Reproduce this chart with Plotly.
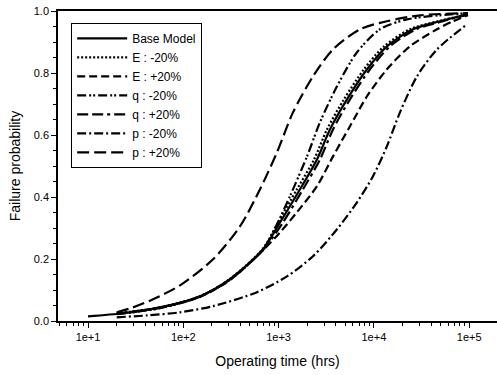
import plotly.graph_objects as go

# ---- data (time in hrs, failure probability) ----
base_t = [10, 23.3, 57, 150, 309, 686, 1035, 1679, 2529, 3460, 5224, 8474, 13710, 25700, 49400, 97000]
base_p = [0.015, 0.025, 0.044, 0.080, 0.135, 0.231, 0.318, 0.425, 0.521, 0.618, 0.715, 0.812, 0.886, 0.941, 0.967, 0.989]

em20_t = [20, 57, 150, 309, 686, 986, 1560, 2355, 3222, 4850, 7870, 12760, 23930, 47100, 97000]
em20_p = [0.025, 0.044, 0.080, 0.136, 0.234, 0.318, 0.425, 0.521, 0.618, 0.715, 0.812, 0.886, 0.941, 0.967, 0.989]

ep20_t = [20, 57, 150, 309, 686, 1035, 1560, 2529, 3724, 5610, 8474, 13710, 23930, 45920, 67600, 97000]
ep20_p = [0.023, 0.043, 0.078, 0.132, 0.228, 0.286, 0.351, 0.435, 0.531, 0.628, 0.725, 0.812, 0.886, 0.941, 0.967, 0.986]

qm20_t = [20, 57, 150, 309, 686, 874, 1318, 1987, 2718, 4100, 6650, 11590, 22230, 97000]
qm20_p = [0.022, 0.041, 0.078, 0.133, 0.231, 0.286, 0.403, 0.531, 0.641, 0.757, 0.867, 0.941, 0.973, 0.993]

qp20_t = [20, 57, 150, 309, 686, 1112, 1803, 2718, 3724, 5610, 9100, 14760, 27670, 53090, 97000]
qp20_p = [0.024, 0.043, 0.079, 0.134, 0.229, 0.318, 0.425, 0.521, 0.618, 0.715, 0.812, 0.886, 0.941, 0.967, 0.989]

pm20_t = [20, 41.6, 92.3, 205, 593, 1224, 2296, 4103, 6650, 9790, 13710, 18780, 28320, 45920, 94840]
pm20_p = [0.012, 0.018, 0.028, 0.048, 0.093, 0.144, 0.209, 0.296, 0.383, 0.467, 0.564, 0.673, 0.789, 0.876, 0.957]

pp20_t = [20, 29.7, 48.1, 92.3, 205, 393, 638, 962, 1416, 2296, 3724, 7150, 13710, 30480, 97000]
pp20_p = [0.028, 0.044, 0.070, 0.115, 0.199, 0.305, 0.425, 0.544, 0.673, 0.789, 0.876, 0.941, 0.967, 0.986, 0.993]

x_tick_vals = [10, 100, 1000, 10000, 100000]
x_tick_text = ["1e+1", "1e+2", "1e+3", "1e+4", "1e+5"]
y_tick_vals = [0.0, 0.2, 0.4, 0.6, 0.8, 1.0]
y_tick_text = ["0.0", "0.2", "0.4", "0.6", "0.8", "1.0"]

series = [
    ("Base Model", base_t, base_p, "solid"),
    ("E : -20%", em20_t, em20_p, "2px,2px"),
    ("E : +20%", ep20_t, ep20_p, "8px,4px"),
    ("q : -20%", qm20_t, qm20_p, "9px,3px,2px,2px,2px,3px"),
    ("q : +20%", qp20_t, qp20_p, "11px,4px,11px,4px,3px,4px"),
    ("p : -20%", pm20_t, pm20_p, "9px,3px,2px,3px"),
    ("p : +20%", pp20_t, pp20_p, "12px,5px"),
]

fig = go.Figure()
for name, t, p, dash in series:
    fig.add_trace(go.Scatter(
        x=t, y=p, mode="lines", name=name,
        line=dict(color="black", width=2.2, dash=dash, shape="spline", smoothing=0.8),
    ))

fig.update_layout(
    width=497, height=375,
    margin=dict(l=58, r=0, t=11, b=54),
    paper_bgcolor="white", plot_bgcolor="white",
    font=dict(family="Liberation Sans, Arial, sans-serif", color="black", size=11),
    showlegend=True,
    legend=dict(
        x=0.03, y=0.962, xanchor="left", yanchor="top",
        bgcolor="white", bordercolor="black", borderwidth=1,
        font=dict(size=12), tracegroupgap=0,
        itemwidth=50, entrywidth=160, entrywidthmode="pixels",
    ),
)
fig.update_xaxes(
    type="log", range=[0.685, 5.292],
    tickvals=x_tick_vals, ticktext=x_tick_text,
    ticks="outside", ticklen=5, tickwidth=1, tickcolor="black",
    minor=dict(ticks="outside", ticklen=3, tickcolor="black", dtick="D1", showgrid=False),
    showline=True, linecolor="black", linewidth=1.5, mirror=True,
    showgrid=False, zeroline=False,
    title=dict(text="Operating time (hrs)", font=dict(size=14), standoff=14),
)
fig.update_yaxes(
    range=[0, 1],
    tickvals=y_tick_vals, ticktext=y_tick_text,
    ticks="outside", ticklen=5, tickwidth=1, tickcolor="black",
    minor=dict(ticks="outside", ticklen=3, tickcolor="black", dtick=0.05, showgrid=False),
    showline=True, linecolor="black", linewidth=1.5,
    showgrid=False, zeroline=False,
    title=dict(text="Failure probability", font=dict(size=14), standoff=10),
)

fig.write_html("out.html")
